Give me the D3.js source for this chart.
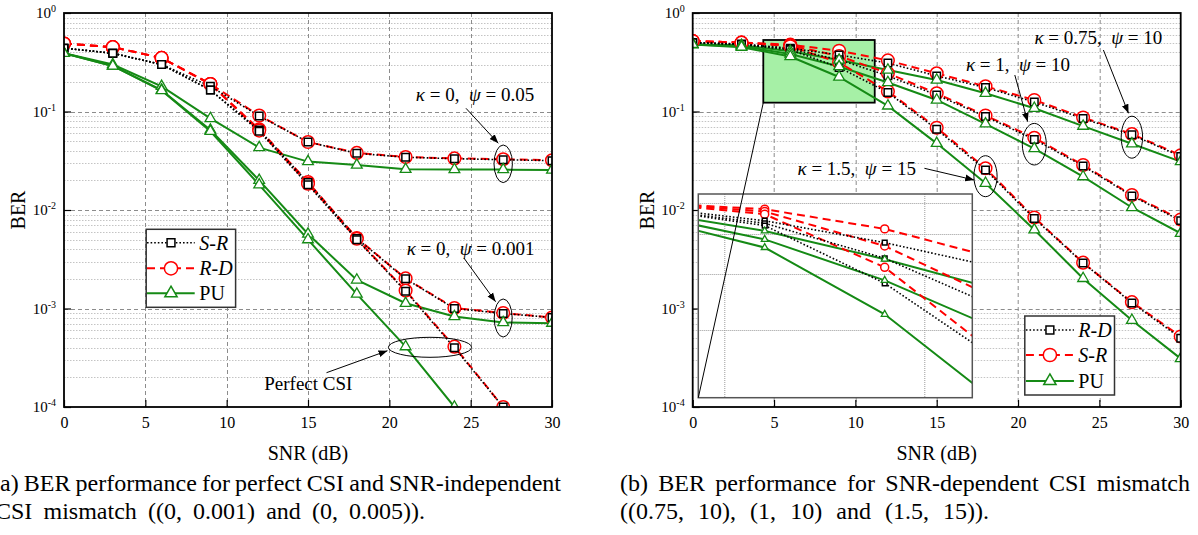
<!DOCTYPE html>
<html>
<head>
<meta charset="utf-8">
<script src="https://cdn.jsdelivr.net/npm/d3@7"></script>
<style>
  body { margin: 0; background: #fff; }
  svg { display: block; }
  text { font-family: "Liberation Serif", "DejaVu Serif", serif; fill: #000; }
</style>
</head>
<body>
<svg id="chart" width="1198" height="535"></svg>
<script>
// ---- data ----
var snr = [0, 3, 6, 9, 12, 15, 18, 21, 24, 27, 30];
var xTicks = [0, 5, 10, 15, 20, 25, 30];
var yTicks = [1, 1e-1, 1e-2, 1e-3, 1e-4];

// (a) kappa = 0, psi = 0.05
var srPsi005 = [0.44, 0.39, 0.30, 0.18, 0.090, 0.049, 0.0376, 0.0343, 0.0332, 0.0324, 0.0317];
var rdPsi005 = [0.49, 0.45, 0.35, 0.19, 0.091, 0.049, 0.0380, 0.0345, 0.0334, 0.0328, 0.0320];
var puPsi005 = [0.39, 0.30, 0.18, 0.085, 0.043, 0.031, 0.0286, 0.0259, 0.0258, 0.0257, 0.0255];
// (a) kappa = 0, psi = 0.001
var srPsi0001 = [0.44, 0.39, 0.30, 0.165, 0.065, 0.019, 0.00515, 0.0020, 0.00100, 0.00089, 0.00081];
var rdPsi0001 = [0.49, 0.45, 0.35, 0.19, 0.066, 0.0192, 0.0052, 0.00202, 0.00101, 0.00090, 0.00081];
var puPsi0001 = [0.39, 0.29, 0.165, 0.065, 0.020, 0.0057, 0.00195, 0.00113, 0.00083, 0.00072, 0.00071];
// (a) perfect CSI
var srPerfect = [0.44, 0.39, 0.30, 0.165, 0.063, 0.018, 0.0050, 0.0015, 0.00040, 0.00010];
var rdPerfect = [0.49, 0.45, 0.35, 0.19, 0.064, 0.0185, 0.0051, 0.00152, 0.00041, 0.00010];
var puPerfect = [0.39, 0.29, 0.163, 0.063, 0.018, 0.0050, 0.0014, 0.00041, 0.00010];

// (b) kappa = 0.75, psi = 10
var rdK075 = [0.50, 0.485, 0.439, 0.375, 0.31, 0.23, 0.175, 0.125, 0.085, 0.058, 0.035];
var srK075 = [0.52, 0.50, 0.477, 0.414, 0.33, 0.244, 0.18, 0.131, 0.087, 0.059, 0.036];
var puK075 = [0.48, 0.47, 0.408, 0.333, 0.264, 0.209, 0.153, 0.108, 0.071, 0.047, 0.031];
// (b) kappa = 1, psi = 10
var rdK1 = [0.50, 0.48, 0.431, 0.335, 0.23, 0.147, 0.089, 0.052, 0.028, 0.0139, 0.0078];
var srK1 = [0.52, 0.50, 0.469, 0.366, 0.244, 0.153, 0.091, 0.054, 0.0286, 0.0142, 0.0080];
var puK1 = [0.48, 0.46, 0.384, 0.286, 0.197, 0.131, 0.075, 0.042, 0.0218, 0.0106, 0.0058];
// (b) kappa = 1.5, psi = 15
var rdK15 = [0.50, 0.48, 0.424, 0.28, 0.156, 0.066, 0.0255, 0.0082, 0.0029, 0.00114, 0.00050];
var srK15 = [0.52, 0.50, 0.460, 0.314, 0.16, 0.0685, 0.0265, 0.0084, 0.00292, 0.00116, 0.00052];
var puK15 = [0.48, 0.45, 0.362, 0.224, 0.114, 0.0475, 0.0187, 0.0063, 0.00202, 0.00076, 0.00031];

// zoomed window of panel (b)
var zoomSnr = [4.34, 11.19];
var zoomBer = [0.123, 0.532];
var insetGridX = [5, 10];
var insetGridY = [0.5, 0.4, 0.3, 0.2];

// ---- setup ----
var svg = d3.select('#chart');
var defs = svg.append('defs');
var W = 488, H = 394, TOP = 13;

defs.append('marker')
  .attr('id', 'arrow')
  .attr('viewBox', '0 0 10 10')
  .attr('refX', 10).attr('refY', 5)
  .attr('markerWidth', 9).attr('markerHeight', 9)
  .attr('markerUnits', 'userSpaceOnUse')
  .attr('orient', 'auto')
  .append('path').attr('d', 'M0,1.2L10,5L0,8.8Z').attr('fill', '#000');

var styles = {
  black: { stroke: '#000', width: 1.6, dash: '1.6,2', symbol: d3.symbolSquare, size: 56 },
  red: { stroke: '#ff0000', width: 2, dash: '8,5', symbol: d3.symbolCircle, size: 125 },
  green: { stroke: '#158a15', width: 2, dash: null, symbol: d3.symbolTriangle, size: 50 }
};

function makePanel(ox, id) {
  var g = svg.append('g').attr('transform', 'translate(' + ox + ',' + TOP + ')');
  var x = d3.scaleLinear().domain([0, 30]).range([0, W]);
  var y = d3.scaleLog().domain([1e-4, 1]).range([H, 0]);

  // minor horizontal grid
  var minor = [];
  yTicks.slice(1).forEach(function(d) {
    for (var k = 2; k < 10; k++) minor.push(d * k);
  });
  g.append('g').selectAll('line').data(minor).join('line')
    .attr('x1', 0).attr('x2', W)
    .attr('y1', function(d) { return Math.round(y(d)) + 0.5; })
    .attr('y2', function(d) { return Math.round(y(d)) + 0.5; })
    .attr('stroke', '#c4c4c4').attr('stroke-dasharray', '1.5,1.5');
  // major grid
  g.append('g').selectAll('line').data(yTicks.slice(1, -1)).join('line')
    .attr('x1', 0).attr('x2', W)
    .attr('y1', function(d) { return Math.round(y(d)) + 0.5; })
    .attr('y2', function(d) { return Math.round(y(d)) + 0.5; })
    .attr('stroke', '#8c8c8c').attr('stroke-dasharray', '4,3');
  g.append('g').selectAll('line').data(xTicks.slice(1, -1)).join('line')
    .attr('x1', function(d) { return Math.round(x(d)) + 0.5; })
    .attr('x2', function(d) { return Math.round(x(d)) + 0.5; })
    .attr('y1', 0).attr('y2', H)
    .attr('stroke', '#8c8c8c').attr('stroke-dasharray', '4,3');

  defs.append('clipPath').attr('id', id).append('rect').attr('width', W).attr('height', H);
  var under = g.append('g');
  var plot = g.append('g').attr('clip-path', 'url(#' + id + ')');

  // axes, ticks pointing inward
  var ay = g.append('g').call(d3.axisLeft(y).tickValues(yTicks).tickSize(-7).tickPadding(8));
  ay.selectAll('.tick text').text(null).attr('font-size', 15)
    .each(function(d) {
      var t = d3.select(this);
      var e = Math.round(Math.log10(d));
      t.append('tspan').text('10');
      t.append('tspan').attr('dy', '-0.6em').attr('font-size', 10).text(e === 0 ? '0' : '-' + Math.abs(e));
    });
  var ax = g.append('g').attr('transform', 'translate(0,' + H + ')')
    .call(d3.axisBottom(x).tickValues(xTicks).tickSize(-7).tickPadding(10));
  ax.selectAll('.tick text').attr('font-size', 16);
  [ay, ax].forEach(function(a) {
    a.select('.domain').remove();
    a.selectAll('.tick line').attr('stroke', '#000').attr('stroke-width', 1.2);
    a.attr('font-family', null);
  });

  var frame = g.append('rect').attr('width', W).attr('height', H)
    .attr('fill', 'none').attr('stroke', '#000').attr('stroke-width', 1.8);

  g.append('text').attr('transform', 'translate(-46,' + (H / 2) + ') rotate(-90)')
    .attr('text-anchor', 'middle').attr('dy', '0.35em').attr('font-size', 20).text('BER');
  g.append('text').attr('x', W / 2).attr('y', H + 53)
    .attr('text-anchor', 'middle').attr('font-size', 20).text('SNR (dB)');

  return { g: g, x: x, y: y, plot: plot, under: under, frame: frame };
}

function drawLines(layer, x, y, list) {
  list.forEach(function(s) {
    var st = styles[s.style];
    var pts = s.values.map(function(v, i) { return [snr[i], v]; });
    layer.append('path').datum(pts)
      .attr('fill', 'none')
      .attr('stroke', st.stroke).attr('stroke-width', st.width)
      .attr('stroke-dasharray', st.dash)
      .attr('d', d3.line().x(function(d) { return x(d[0]); }).y(function(d) { return y(d[1]); }));
  });
}

function drawMarkers(layer, x, y, list, scale) {
  list.forEach(function(s) {
    var st = styles[s.style];
    var pts = s.values.map(function(v, i) { return [snr[i], v]; });
    layer.append('g').selectAll('path').data(pts).join('path')
      .attr('transform', function(d) { return 'translate(' + x(d[0]) + ',' + y(d[1]) + ')'; })
      .attr('d', d3.symbol().type(st.symbol).size(st.size * scale))
      .attr('fill', '#fff').attr('stroke', st.stroke).attr('stroke-width', s.style === 'green' ? 1.3 : 1.5);
  });
}

function drawSeries(layer, x, y, list, scale) {
  drawLines(layer, x, y, list);
  // marker order: circles, squares, triangles
  ['red', 'black', 'green'].forEach(function(k) {
    drawMarkers(layer, x, y, list.filter(function(s) { return s.style === k; }), scale);
  });
}

function note(g, cx, yb, parts) {
  var t = g.append('text').attr('x', cx).attr('y', yb).attr('text-anchor', 'middle').attr('font-size', 19);
  parts.forEach(function(p) {
    t.append('tspan').attr('font-style', p[1] ? 'italic' : null).text(p[0]);
  });
}

function arrow(g, x1, y1, x2, y2) {
  g.append('line').attr('x1', x1).attr('y1', y1).attr('x2', x2).attr('y2', y2)
    .attr('stroke', '#000').attr('stroke-width', 1).attr('marker-end', 'url(#arrow)');
}

function ellipse(g, cx, cy, rx, ry) {
  g.append('ellipse').attr('cx', cx).attr('cy', cy).attr('rx', rx).attr('ry', ry)
    .attr('fill', 'none').attr('stroke', '#000').attr('stroke-width', 1);
}

function legend(g, bx, by, bw, bh, rows, rowY, lx1, lx2, mx, tx) {
  g.append('rect').attr('x', bx).attr('y', by).attr('width', bw).attr('height', bh)
    .attr('fill', '#fff').attr('stroke', '#333').attr('stroke-width', 1.5);
  rows.forEach(function(r, i) {
    var st = styles[r.style];
    var yy = rowY[i];
    g.append('line').attr('x1', lx1).attr('x2', lx2).attr('y1', yy).attr('y2', yy)
      .attr('stroke', st.stroke).attr('stroke-width', st.width).attr('stroke-dasharray', st.dash);
    g.append('path').attr('transform', 'translate(' + mx + ',' + yy + ')')
      .attr('d', d3.symbol().type(st.symbol).size(st.size * (r.style === 'green' ? 1.3 : 1.1)))
      .attr('fill', '#fff').attr('stroke', st.stroke).attr('stroke-width', 1.5);
    g.append('text').attr('x', tx).attr('y', yy).attr('dy', '0.35em').attr('font-size', 20)
      .attr('font-style', r.italic ? 'italic' : null).text(r.label);
  });
}

// ---- panel (a) ----
var A = makePanel(64, 'clipA');
drawSeries(A.plot, A.x, A.y, [
  { values: puPsi005, style: 'green' }, { values: puPsi0001, style: 'green' }, { values: puPerfect, style: 'green' },
  { values: rdPsi005, style: 'red' }, { values: rdPsi0001, style: 'red' }, { values: rdPerfect, style: 'red' },
  { values: srPsi005, style: 'black' }, { values: srPsi0001, style: 'black' }, { values: srPerfect, style: 'black' }
], 1);
A.frame.raise();

note(A.g, 411, 87.5, [['\u03ba', true], [' = 0,\u00a0 ', false], ['\u03c8', true], [' = 0.05', false]]);
arrow(A.g, 402, 95.3, 434.3, 130.3);
ellipse(A.g, A.x(27), 150.8, 9.2, 18.8);
note(A.g, 406.6, 242, [['\u03ba', true], [' = 0,\u00a0 ', false], ['\u03c8', true], [' = 0.001', false]]);
arrow(A.g, 399.9, 245, 431.6, 288.7);
ellipse(A.g, A.x(27), 305, 9, 19);
ellipse(A.g, A.x(22.5), 334.3, 41.6, 10);
note(A.g, 244.3, 377, [['Perfect CSI', false]]);
arrow(A.g, 262.5, 359.7, 323.5, 337.7);

legend(A.g, 82.2, 216.3, 89.4, 78, [
  { style: 'black', label: 'S-R', italic: true },
  { style: 'red', label: 'R-D', italic: true },
  { style: 'green', label: 'PU', italic: false }
], [229.7, 255.3, 280.3], 83, 130.7, 107, 135.3);

// ---- panel (b) ----
var B = makePanel(692.7, 'clipB');
var bSeries = [
  { values: puK075, style: 'green' }, { values: puK1, style: 'green' }, { values: puK15, style: 'green' },
  { values: srK075, style: 'red' }, { values: srK1, style: 'red' }, { values: srK15, style: 'red' },
  { values: rdK075, style: 'black' }, { values: rdK1, style: 'black' }, { values: rdK15, style: 'black' }
];
// zoom window
B.under.append('rect')
  .attr('x', B.x(zoomSnr[0])).attr('y', B.y(zoomBer[1]))
  .attr('width', B.x(zoomSnr[1]) - B.x(zoomSnr[0]))
  .attr('height', B.y(zoomBer[0]) - B.y(zoomBer[1]))
  .attr('fill', '#a6f0a6').attr('stroke', '#000').attr('stroke-width', 1.8);
drawSeries(B.plot, B.x, B.y, bSeries, 1);
B.frame.raise();

// inset
var IX = 5.6, IY = 181, IW = 274, IH = 203.7;
var inset = B.g.append('g').attr('transform', 'translate(' + IX + ',' + IY + ')');
var xi = d3.scaleLinear().domain(zoomSnr).range([0, IW]);
var yi = d3.scaleLog().domain(zoomBer).range([IH, 0]);
inset.append('rect').attr('width', IW).attr('height', IH).attr('fill', '#fff');
inset.append('g').selectAll('line').data(insetGridX).join('line')
  .attr('x1', function(d) { return Math.round(xi(d)) + 0.5; })
  .attr('x2', function(d) { return Math.round(xi(d)) + 0.5; })
  .attr('y1', 0).attr('y2', IH)
  .attr('stroke', '#9a9a9a').attr('stroke-dasharray', '1,1');
inset.append('g').selectAll('line').data(insetGridY).join('line')
  .attr('y1', function(d) { return Math.round(yi(d)) + 0.5; })
  .attr('y2', function(d) { return Math.round(yi(d)) + 0.5; })
  .attr('x1', 0).attr('x2', IW)
  .attr('stroke', '#9a9a9a').attr('stroke-dasharray', '1,1');
defs.append('clipPath').attr('id', 'clipInset').append('rect').attr('width', IW).attr('height', IH);
drawSeries(inset.append('g').attr('clip-path', 'url(#clipInset)'), xi, yi, bSeries, 0.4);
inset.append('rect').attr('width', IW).attr('height', IH)
  .attr('fill', 'none').attr('stroke', '#555').attr('stroke-width', 1.5);
B.g.append('line')
  .attr('x1', IX).attr('y1', IY + IH)
  .attr('x2', B.x(zoomSnr[0])).attr('y2', B.y(zoomBer[0]))
  .attr('stroke', '#000').attr('stroke-width', 1);

note(B.g, 405.7, 31, [['\u03ba', true], [' = 0.75,\u00a0 ', false], ['\u03c8', true], [' = 10', false]]);
arrow(B.g, 410.7, 37, 435.8, 100.3);
ellipse(B.g, B.x(27), 124.2, 10.7, 21);
note(B.g, 325.3, 58, [['\u03ba', true], [' = 1,\u00a0 ', false], ['\u03c8', true], [' = 10', false]]);
arrow(B.g, 322.1, 62, 335, 108.7);
ellipse(B.g, B.x(21), 131.2, 12, 20.8);
note(B.g, 164, 162, [['\u03ba', true], [' = 1.5,\u00a0 ', false], ['\u03c8', true], [' = 15', false]]);
arrow(B.g, 231.7, 155.3, 281.5, 167);
ellipse(B.g, B.x(18), 163.2, 11.6, 20.5);

legend(B.g, 332.1, 303, 89.7, 79, [
  { style: 'black', label: 'R-D', italic: true },
  { style: 'red', label: 'S-R', italic: true },
  { style: 'green', label: 'PU', italic: false }
], [317, 342, 368], 333.2, 381.2, 357.2, 385.6);

// ---- captions ----
var CAP = 24;
function justify(str, x0, x1, yb) {
  var words = str.split(' ');
  var t = svg.append('text').attr('y', yb).attr('font-size', CAP);
  var spans = words.map(function(w) { return t.append('tspan').text(w); });
  var widths = spans.map(function(s) { return s.node().getComputedTextLength(); });
  var gap = (x1 - x0 - d3.sum(widths)) / (words.length - 1);
  var cx = x0;
  spans.forEach(function(s, i) { s.attr('x', cx); cx += widths[i] + gap; });
}
justify('(a) BER performance for perfect CSI and SNR-independent', -8, 561, 491);
justify('CSI mismatch ((0, 0.001) and (0, 0.005)).', -5, 425, 519);
justify('(b) BER performance for SNR-dependent CSI mismatch', 620, 1190, 491);
justify('((0.75, 10), (1, 10) and (1.5, 15)).', 620, 989, 519);
</script>
</body>
</html>
